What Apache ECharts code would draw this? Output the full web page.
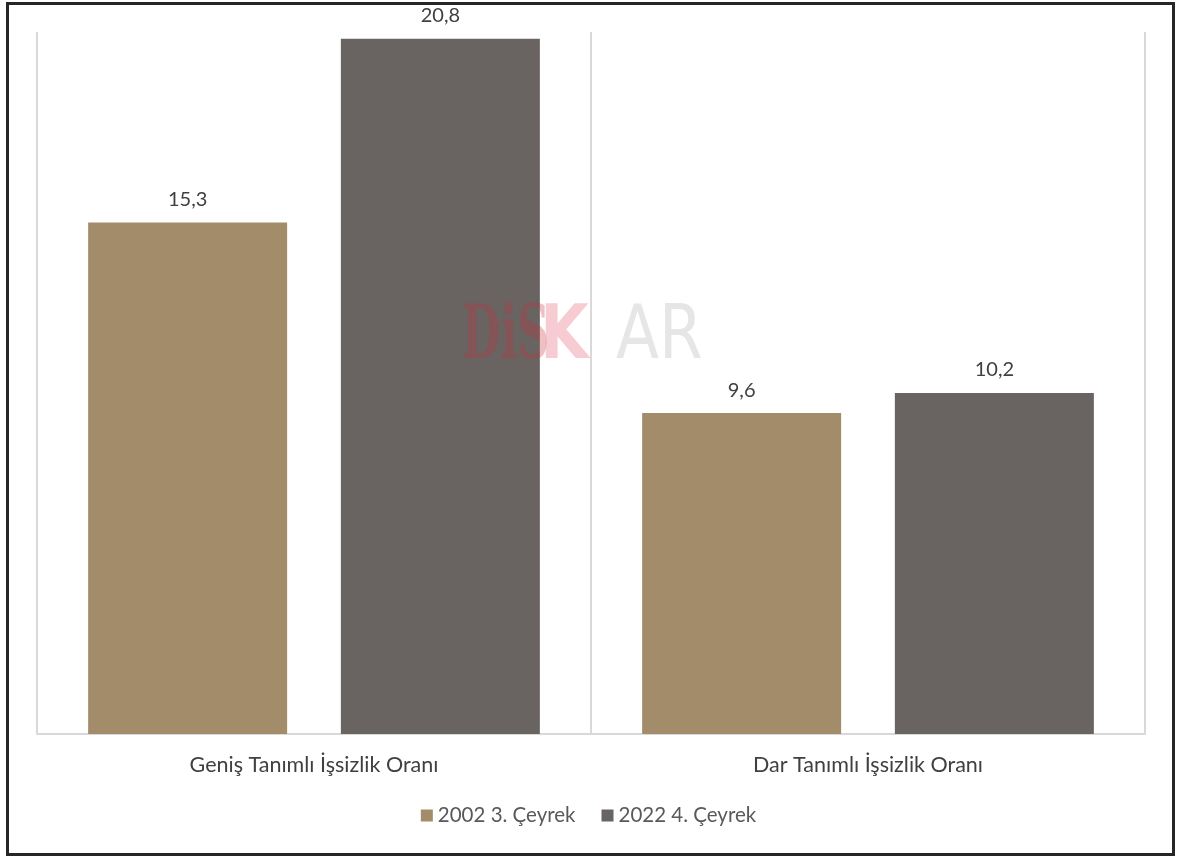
<!DOCTYPE html>
<html style="height: 100%">
   <head>
       <meta charset="utf-8">
   </head>
   <body style="height: 100%; margin: 0; background: #fff">
       <div id="container" style="height: 100%"></div>
       <script type="text/javascript" src="https://cdn.jsdelivr.net/npm/echarts@6/dist/echarts.min.js"></script>
       <script type="text/javascript">
var categories = ['Geniş Tanımlı İşsizlik Oranı', 'Dar Tanımlı İşsizlik Oranı'];
var seriesNames = ['2002 3. Çeyrek', '2022 4. Çeyrek'];
var values2002 = [15.3, 9.6];
var values2022 = [20.8, 10.2];
var colors = ['#a38c69', '#696462'];

var dom = document.getElementById("container");
var myChart = echarts.init(dom);
var font = 'Lato, "Open Sans", sans-serif';

function label() {
    return {
        show: true,
        position: 'top',
        distance: 13,
        color: '#404040',
        fontSize: 20,
        fontFamily: font,
        formatter: function (p) { return String(p.value).replace('.', ','); }
    };
}

var option = {
    animation: false,
    color: colors,
    textStyle: { fontFamily: font },
    grid: { left: 37, right: 32, top: 32, bottom: 124 },
    legend: {
        data: seriesNames,
        bottom: 27,
        left: 'center',
        itemWidth: 12,
        itemHeight: 12,
        itemGap: 26,
        icon: 'rect',
        textStyle: { color: '#595959', fontSize: 20.5, fontFamily: font }
    },
    xAxis: {
        type: 'category',
        data: categories,
        axisLine: { lineStyle: { color: '#d9d9d9', width: 2 } },
        axisTick: { show: false },
        splitLine: { show: true, lineStyle: { color: '#d9d9d9', width: 2 } },
        axisLabel: { color: '#404040', fontSize: 21.5, margin: 20, fontFamily: font }
    },
    yAxis: {
        type: 'value',
        min: 0,
        max: 21,
        show: false,
        splitLine: { show: false }
    },
    graphic: [
        {
            type: 'rect',
            shape: { x: 7.5, y: 3.5, width: 1166, height: 851 },
            style: { fill: 'none', stroke: '#262626', lineWidth: 3 },
            z: 100
        },
        {
            type: 'text',
            left: 462,
            top: 302,
            scaleX: 0.6,
            style: {
                text: 'DiS',
                fill: 'rgba(195, 50, 60, 0.3)',
                font: 'bold 74px "DejaVu Serif", serif'
            },
            z: 50
        },
        {
            type: 'text',
            left: 540,
            top: 302,
            scaleX: 0.85,
            style: {
                text: 'K',
                fill: 'rgba(230, 110, 125, 0.35)',
                font: 'bold 74px "DejaVu Sans", sans-serif'
            },
            z: 50
        },
        {
            type: 'text',
            left: 616,
            top: 302,
            scaleX: 0.85,
            style: {
                text: 'AR',
                fill: 'rgba(205, 205, 205, 0.5)',
                font: '74px "DejaVu Sans", sans-serif'
            },
            z: 50
        }
    ],
    series: [
        {
            name: seriesNames[0],
            type: 'bar',
            data: values2002,
            barWidth: 199,
            barGap: '27%',
            label: label()
        },
        {
            name: seriesNames[1],
            type: 'bar',
            data: values2022,
            barWidth: 199,
            barGap: '27%',
            label: label()
        }
    ]
};

myChart.setOption(option);
       </script>
   </body>
</html>
